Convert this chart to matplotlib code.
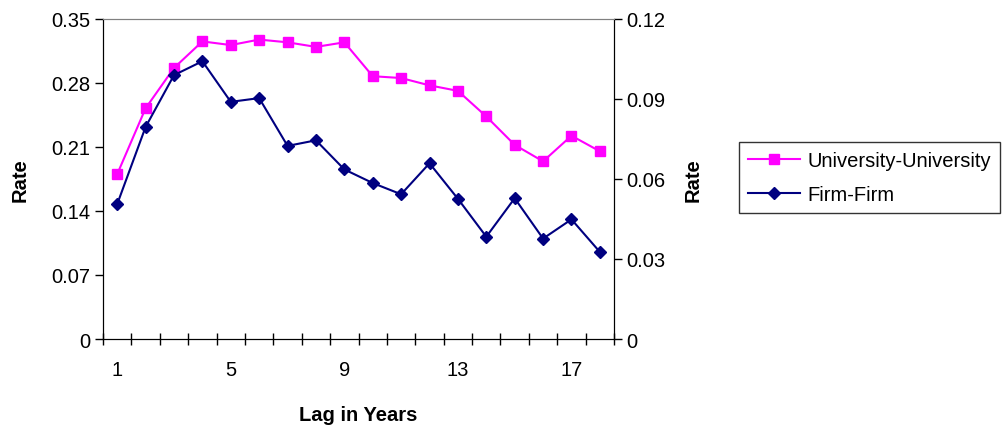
import matplotlib.pyplot as plt
from matplotlib.ticker import FixedLocator, NullFormatter

plt.rcParams['font.family'] = ['Liberation Sans', 'DejaVu Sans']

lags = list(range(1, 19))
univ_univ = [0.180, 0.252, 0.296, 0.325, 0.321, 0.327, 0.324, 0.319, 0.324,
             0.287, 0.285, 0.277, 0.271, 0.243, 0.212, 0.194, 0.222, 0.205]
firm_firm = [0.0505, 0.0794, 0.0988, 0.1040, 0.0888, 0.0902, 0.0723, 0.0744, 0.0635,
             0.0584, 0.0542, 0.0658, 0.0525, 0.0383, 0.0527, 0.0376, 0.0448, 0.0326]
left_ticks = [0, 0.07, 0.14, 0.21, 0.28, 0.35]
right_ticks = [0, 0.03, 0.06, 0.09, 0.12]
x_labels = [1, 5, 9, 13, 17]

fig = plt.figure(figsize=(10.05, 4.27), dpi=100)
ax = fig.add_axes([0.1025, 0.2037, 0.5085, 0.7506])
ax2 = ax.twinx()

l1, = ax.plot(lags, univ_univ, color='#FF00FF', marker='s', markersize=7.5,
              linewidth=1.5, label='University-University')
l2, = ax2.plot(lags, firm_firm, color='#000080', marker='D', markersize=6.5,
               linewidth=1.5, label='Firm-Firm')

ax.set_xlim(0.5, 18.5)
ax.set_ylim(0, 0.35)
ax2.set_ylim(0, 0.12)
ax.set_yticks(left_ticks)
ax.set_yticklabels(['0', '0.07', '0.14', '0.21', '0.28', '0.35'])
ax2.set_yticks(right_ticks)
ax2.set_yticklabels(['0', '0.03', '0.06', '0.09', '0.12'])

ax.set_xticks(x_labels)
ax.set_xticklabels([str(x) for x in x_labels])
ax.xaxis.set_minor_locator(FixedLocator([i + 0.5 for i in range(0, 19)]))
ax.xaxis.set_minor_formatter(NullFormatter())
ax.tick_params(axis='x', which='major', length=0, labelsize=14.5, pad=15)
ax.tick_params(axis='x', which='minor', length=9, width=1, direction='inout')
ax.tick_params(axis='y', length=6, width=1, labelsize=14.5, pad=3)
ax2.tick_params(axis='y', length=6, width=1, labelsize=14.5, pad=3)

for a in (ax, ax2):
    a.spines['top'].set_color('#808080')
    a.spines['left'].set_color('black')
    a.spines['right'].set_color('black')
    a.spines['bottom'].set_color('black')

ax.set_xlabel('Lag in Years', fontsize=14.5, fontweight='bold', labelpad=19)
ax.set_ylabel('Rate', fontsize=14.5, fontweight='bold', labelpad=16)
ax2.set_ylabel('Rate', fontsize=14.5, fontweight='bold', labelpad=13)

leg = fig.legend(handles=[l1, l2], loc='upper left', bbox_to_anchor=(739 / 1005, 1 - 143 / 427),
                 fontsize=14.5, frameon=True, fancybox=False, edgecolor='black',
                 borderaxespad=0, handlelength=2.6, borderpad=0.45, labelspacing=0.75,
                 handletextpad=0.35)
leg.get_frame().set_linewidth(1)

fig.savefig('out.png', dpi=100)
